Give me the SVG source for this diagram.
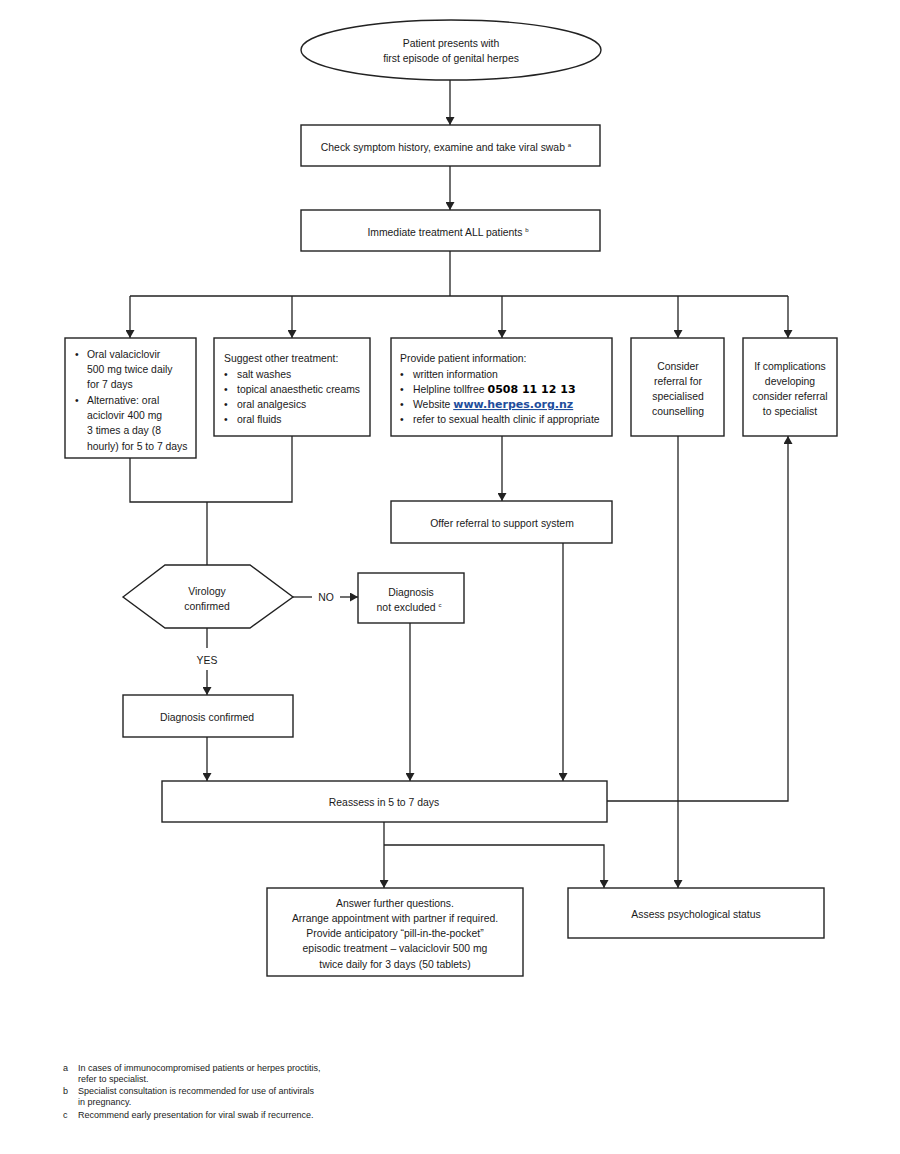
<svg xmlns="http://www.w3.org/2000/svg" width="900" height="1154" viewBox="0 0 900 1154">
<style>
.bg{fill:#fff}
.n{fill:#fff;stroke:#222;stroke-width:1.4}
.c{fill:none;stroke:#222;stroke-width:1.3}
text{font-family:"Liberation Sans",Arial,sans-serif;font-size:10.4px;fill:#1a1a1a}
.m{text-anchor:middle}
.sup{font-size:6px}
.big{font-family:"DejaVu Sans",Verdana,sans-serif;font-weight:bold;font-size:11px;fill:#000}
.link{font-family:"DejaVu Sans",Verdana,sans-serif;font-weight:bold;font-size:11px;fill:#1f4e9c;text-decoration:underline}
.fn{font-size:9px}
</style>
<defs>
<marker id="ah" markerUnits="userSpaceOnUse" markerWidth="9" markerHeight="9" refX="8" refY="4.5" orient="auto">
<path d="M0,0 L8,4.5 L0,9 z" fill="#222"/>
</marker>
</defs>
<rect class="bg" width="900" height="1154"/>

<g id="connectors">
<path class="c" d="M450,80 V125" marker-end="url(#ah)"/>
<path class="c" d="M450,166 V210" marker-end="url(#ah)"/>
<path class="c" d="M450,251 V296 M130,296 H788"/>
<path class="c" d="M130,296 V338" marker-end="url(#ah)"/>
<path class="c" d="M292,296 V338" marker-end="url(#ah)"/>
<path class="c" d="M502,296 V338" marker-end="url(#ah)"/>
<path class="c" d="M678,296 V338" marker-end="url(#ah)"/>
<path class="c" d="M788,296 V338" marker-end="url(#ah)"/>
<path class="c" d="M130,458 V502 H292 V436 M207,502 V565"/>
<path class="c" d="M293,597 H312"/>
<path class="c" d="M340,597 H358" marker-end="url(#ah)"/>
<path class="c" d="M207,628 V648"/>
<path class="c" d="M207,670 V695" marker-end="url(#ah)"/>
<path class="c" d="M502,436 V501" marker-end="url(#ah)"/>
<path class="c" d="M207,737 V781" marker-end="url(#ah)"/>
<path class="c" d="M410,623 V781" marker-end="url(#ah)"/>
<path class="c" d="M563,543 V781" marker-end="url(#ah)"/>
<path class="c" d="M607,801 H788 V436" marker-end="url(#ah)"/>
<path class="c" d="M678,436 V888" marker-end="url(#ah)"/>
<path class="c" d="M384,822 V888" marker-end="url(#ah)"/>
<path class="c" d="M384,845 H604 V888" marker-end="url(#ah)"/>
<text class="m" x="326" y="601">NO</text>
<text class="m" x="207" y="664">YES</text>
</g>

<g id="start">
<ellipse class="n" cx="451" cy="50" rx="150" ry="30"/>
<text class="m" x="451" y="47">Patient presents with</text>
<text class="m" x="451" y="62">first episode of genital herpes</text>
</g>

<g id="check">
<rect class="n" x="301" y="125" width="299" height="41"/>
<text class="m" x="446" y="151">Check symptom history, examine and take viral swab <tspan class="sup" dy="-4">a</tspan></text>
</g>

<g id="immediate">
<rect class="n" x="301" y="210" width="299" height="41"/>
<text class="m" x="448" y="236">Immediate treatment ALL patients <tspan class="sup" dy="-4">b</tspan></text>
</g>

<g id="antiviral">
<rect class="n" x="65" y="338" width="131" height="120"/>
<text x="75" y="358">•</text><text x="87" y="358">Oral valaciclovir</text>
<text x="87" y="373">500 mg twice daily</text>
<text x="87" y="388">for 7 days</text>
<text x="75" y="404">•</text><text x="87" y="404">Alternative: oral</text>
<text x="87" y="419">aciclovir 400 mg</text>
<text x="87" y="434">3 times a day (8</text>
<text x="87" y="450">hourly) for 5 to 7 days</text>
</g>

<g id="other">
<rect class="n" x="214" y="338" width="156" height="98"/>
<text x="224" y="362">Suggest other treatment:</text>
<text x="224" y="378">•</text><text x="237" y="378">salt washes</text>
<text x="224" y="393">•</text><text x="237" y="393">topical anaesthetic creams</text>
<text x="224" y="408">•</text><text x="237" y="408">oral analgesics</text>
<text x="224" y="423">•</text><text x="237" y="423">oral fluids</text>
</g>

<g id="info">
<rect class="n" x="391" y="338" width="221" height="98"/>
<text x="400" y="362">Provide patient information:</text>
<text x="400" y="378">•</text><text x="413" y="378">written information</text>
<text x="400" y="393">•</text><text x="413" y="393">Helpline tollfree <tspan class="big">0508 11 12 13</tspan></text>
<text x="400" y="408">•</text><text x="413" y="408">Website <tspan class="link">www.herpes.org.nz</tspan></text>
<text x="400" y="423">•</text><text x="413" y="423">refer to sexual health clinic if appropriate</text>
</g>

<g id="counselling">
<rect class="n" x="631" y="338" width="93" height="98"/>
<text class="m" x="678" y="370">Consider</text>
<text class="m" x="678" y="385">referral for</text>
<text class="m" x="678" y="400">specialised</text>
<text class="m" x="678" y="415">counselling</text>
</g>

<g id="complications">
<rect class="n" x="743" y="338" width="94" height="98"/>
<text class="m" x="790" y="370">If complications</text>
<text class="m" x="790" y="385">developing</text>
<text class="m" x="790" y="400">consider referral</text>
<text class="m" x="790" y="415">to specialist</text>
</g>

<g id="support">
<rect class="n" x="391" y="501" width="221" height="42"/>
<text class="m" x="502" y="527">Offer referral to support system</text>
</g>

<g id="virology">
<polygon class="n" points="123,597 165,565 250,565 293,597 250,628 165,628"/>
<text class="m" x="207" y="595">Virology</text>
<text class="m" x="207" y="610">confirmed</text>
</g>

<g id="notexcluded">
<rect class="n" x="358" y="573" width="106" height="50"/>
<text class="m" x="411" y="596">Diagnosis</text>
<text class="m" x="409" y="611">not excluded <tspan class="sup" dy="-4">c</tspan></text>
</g>

<g id="confirmed">
<rect class="n" x="123" y="695" width="170" height="42"/>
<text class="m" x="207" y="721">Diagnosis confirmed</text>
</g>

<g id="reassess">
<rect class="n" x="162" y="781" width="445" height="41"/>
<text class="m" x="384" y="806">Reassess in 5 to 7 days</text>
</g>

<g id="answer">
<rect class="n" x="267" y="888" width="256" height="88"/>
<text class="m" x="395" y="907">Answer further questions.</text>
<text class="m" x="395" y="922">Arrange appointment with partner if required.</text>
<text class="m" x="395" y="937">Provide anticipatory “pill-in-the-pocket”</text>
<text class="m" x="395" y="952">episodic treatment – valaciclovir 500 mg</text>
<text class="m" x="395" y="968">twice daily for 3 days (50 tablets)</text>
</g>

<g id="psych">
<rect class="n" x="568" y="888" width="256" height="50"/>
<text class="m" x="696" y="918">Assess psychological status</text>
</g>

<g id="footnotes">
<text class="fn" x="63" y="1071">a</text><text class="fn" x="78" y="1071">In cases of immunocompromised patients or herpes proctitis,</text>
<text class="fn" x="78" y="1082">refer to specialist.</text>
<text class="fn" x="63" y="1094">b</text><text class="fn" x="78" y="1094">Specialist consultation is recommended for use of antivirals</text>
<text class="fn" x="78" y="1105">in pregnancy.</text>
<text class="fn" x="63" y="1118">c</text><text class="fn" x="78" y="1118">Recommend early presentation for viral swab if recurrence.</text>
</g>
</svg>
